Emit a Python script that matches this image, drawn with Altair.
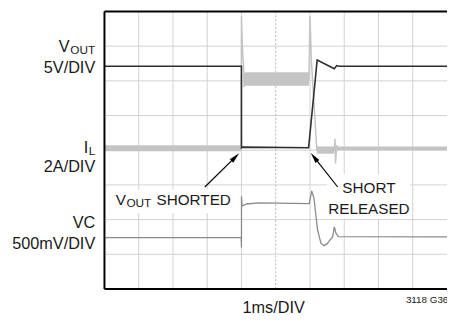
import altair as alt
import pandas as pd

# Horizontal: divisions (1 ms/div), 0..10. Vertical: divisions from bottom, 0..8.
vout_x = [0, 4.0, 4.0, 4.03, 5.96, 6.21, 6.71, 6.78, 6.85, 10]
vout_y = [6.42, 6.42, 4.07, 4.09, 4.07, 6.60, 6.35, 6.44, 6.42, 6.42]

il_x = [0, 3.99, 4.0, 4.03, 4.08, 5.97, 6.0, 6.04, 6.2, 6.71, 6.73, 6.745, 6.78, 6.85, 10]
il_y = [4.06, 4.06, 7.86, 6.9, 6.05, 6.05, 7.86, 6.6, 4.0, 4.0, 4.33, 3.62, 4.12, 4.06, 4.06]

band_seg = ["a", "a", "b", "b", "b", "c", "c", "d", "d"]
band_x = [0, 3.99, 4.05, 4.12, 5.97, 6.2, 6.71, 6.78, 10]
band_lo = [3.97, 3.97, 5.80, 5.86, 5.86, 3.90, 3.90, 4.00, 4.00]
band_hi = [4.14, 4.14, 6.20, 6.25, 6.25, 4.11, 4.11, 4.11, 4.11]

vc_x = [0, 3.99, 4.0, 4.0, 4.02, 4.15, 4.5, 5.98, 6.05, 6.12, 6.22, 6.32, 6.41, 6.5, 6.59, 6.66, 6.71, 6.76, 6.83, 10]
vc_y = [1.48, 1.48, 1.19, 2.67, 2.39, 2.45, 2.48, 2.46, 2.83, 2.6, 1.7, 1.32, 1.25, 1.3, 1.42, 1.5, 1.79, 1.6, 1.51, 1.5]

grid_x = [1, 2, 3, 4, 6, 7, 8, 9]
grid_y = [1, 2, 3, 4, 5, 6, 7]

lab_text = ["V", "OUT", "5V/DIV", "I", "L", "2A/DIV", "VC", "500mV/DIV"]
lab_y = [6.98, 6.9, 6.38, 4.07, 3.99, 3.50, 1.91, 1.30]
lab_size = [16.5, 12, 16.5, 16.5, 12, 16.5, 16.5, 16.5]
lab_dx = [-26, 0, 0, -7, 0, 0, 0, 0]

ann_text = ["V", "OUT", "SHORTED", "SHORT", "RELEASED"]
ann_x = [0.33, 0.64, 1.52, 7.72, 7.72]
ann_y = [2.56, 2.48, 2.56, 2.92, 2.31]
ann_size = [15.5, 12, 15.5, 15.5, 15.5]
ann_align = ["left", "left", "left", "center", "center"]

box_x = [0.18, 6.5]
box_x2 = [3.7, 8.91]
box_y = [2.19, 2.03]
box_y2 = [2.86, 3.31]

arrow_id = ["s", "s", "r", "r"]
arrow_x = [2.93, 3.82, 6.81, 6.12]
arrow_y = [2.94, 3.8, 2.94, 3.8]
head_x = [3.82, 6.12]
head_y = [3.8, 3.8]
head_angle = [45, 322]

FONT = "Liberation Sans"

xs = alt.Scale(domain=[0, 10], nice=False, zero=False)
ys = alt.Scale(domain=[0, 8], nice=False, zero=False)


def X(f="x"):
    return alt.X(f"{f}:Q", scale=xs, axis=None)


def Y(f="y"):
    return alt.Y(f"{f}:Q", scale=ys, axis=None)


gv = pd.DataFrame({"x": grid_x, "y0": 0, "y1": 8})
gh = pd.DataFrame({"y": grid_y, "x0": 0, "x1": 10})
grid_v = alt.Chart(gv).mark_rule(color="#d2d2d2", strokeWidth=1).encode(x=X(), y=Y("y0"), y2="y1:Q")
grid_h = alt.Chart(gh).mark_rule(color="#d2d2d2", strokeWidth=1).encode(y=Y(), x=X("x0"), x2="x1:Q")
center = alt.Chart(pd.DataFrame({"x": [5], "y0": [0], "y1": [8]})).mark_rule(
    color="#b5b5b5", strokeWidth=1, strokeDash=[2, 2]
).encode(x=X(), y=Y("y0"), y2="y1:Q")

band = alt.Chart(pd.DataFrame({"s": band_seg, "x": band_x, "lo": band_lo, "hi": band_hi})).mark_area(
    color="#c4c4c4", opacity=1
).encode(x=X(), y=Y("lo"), y2="hi:Q", detail="s:N")

il = alt.Chart(pd.DataFrame({"x": il_x, "y": il_y, "i": range(len(il_x))})).mark_line(
    color="#c4c4c4", strokeWidth=1.5
).encode(x=X(), y=Y(), order="i:Q")

vc = alt.Chart(pd.DataFrame({"x": vc_x, "y": vc_y, "i": range(len(vc_x))})).mark_line(
    color="#8a8a8a", strokeWidth=1.3
).encode(x=X(), y=Y(), order="i:Q")

vout = alt.Chart(pd.DataFrame({"x": vout_x, "y": vout_y, "i": range(len(vout_x))})).mark_line(
    color="#2e2e2e", strokeWidth=1.6
).encode(x=X(), y=Y(), order="i:Q")

frame_v = alt.Chart(pd.DataFrame({"x": [0], "y0": [0], "y1": [8]})).mark_rule(
    color="black", strokeWidth=2
).encode(x=X(), y=Y("y0"), y2="y1:Q")
frame_h = alt.Chart(pd.DataFrame({"y": [0, 8], "x0": [0, 0], "x1": [10, 10]})).mark_rule(
    color="black", strokeWidth=2
).encode(y=Y(), x=X("x0"), x2="x1:Q")

boxes = alt.Chart(pd.DataFrame({"x": box_x, "x2": box_x2, "y": box_y, "y2": box_y2})).mark_rect(
    color="white"
).encode(x=X(), x2="x2:Q", y=Y(), y2="y2:Q")

arrows = alt.Chart(pd.DataFrame({"a": arrow_id, "x": arrow_x, "y": arrow_y})).mark_line(
    color="black", strokeWidth=1.2
).encode(x=X(), y=Y(), detail="a:N")
heads = alt.Chart(pd.DataFrame({"x": head_x, "y": head_y, "ang": head_angle})).mark_point(
    shape="M0,-1L0.45,1L-0.45,1Z", filled=True, color="black", size=120, opacity=1
).encode(x=X(), y=Y(), angle=alt.Angle("ang:Q", scale=None))

layers_lab = []
for t, yv, s, d in zip(lab_text, lab_y, lab_size, lab_dx):
    layers_lab.append(
        alt.Chart(pd.DataFrame({"t": [t], "x": [-0.27], "y": [yv]})).mark_text(
            align="right", baseline="middle", font=FONT, fontSize=s, dx=d, color="#1a1a1a"
        ).encode(x=X(), y=Y(), text="t:N")
    )

layers_ann = []
for t, xv, yv, s, al in zip(ann_text, ann_x, ann_y, ann_size, ann_align):
    layers_ann.append(
        alt.Chart(pd.DataFrame({"t": [t], "x": [xv], "y": [yv]})).mark_text(
            align=al, baseline="middle", font=FONT, fontSize=s, color="#1a1a1a"
        ).encode(x=X(), y=Y(), text="t:N")
    )

xtitle = alt.Chart(pd.DataFrame({"t": ["1ms/DIV"], "x": [4.94], "y": [-0.54]})).mark_text(
    align="center", baseline="middle", font=FONT, fontSize=16.5, color="#1a1a1a"
).encode(x=X(), y=Y(), text="t:N")
code = alt.Chart(pd.DataFrame({"t": ["3118 G36"], "x": [8.8], "y": [-0.31]})).mark_text(
    align="left", baseline="middle", font=FONT, fontSize=10, color="#1a1a1a"
).encode(x=X(), y=Y(), text="t:N")

chart = alt.layer(
    grid_v, grid_h, center, band, il, vc, vout, frame_v, frame_h, boxes, arrows, heads,
    *layers_lab, *layers_ann, xtitle, code
).properties(
    width=348, height=282,
    autosize=alt.AutoSizeParams(type="none"),
    padding={"left": 98, "top": 1, "right": 0, "bottom": 29},
).configure_view(stroke=None)

chart.save("out.html", embed_options={"renderer": "svg", "actions": False})
